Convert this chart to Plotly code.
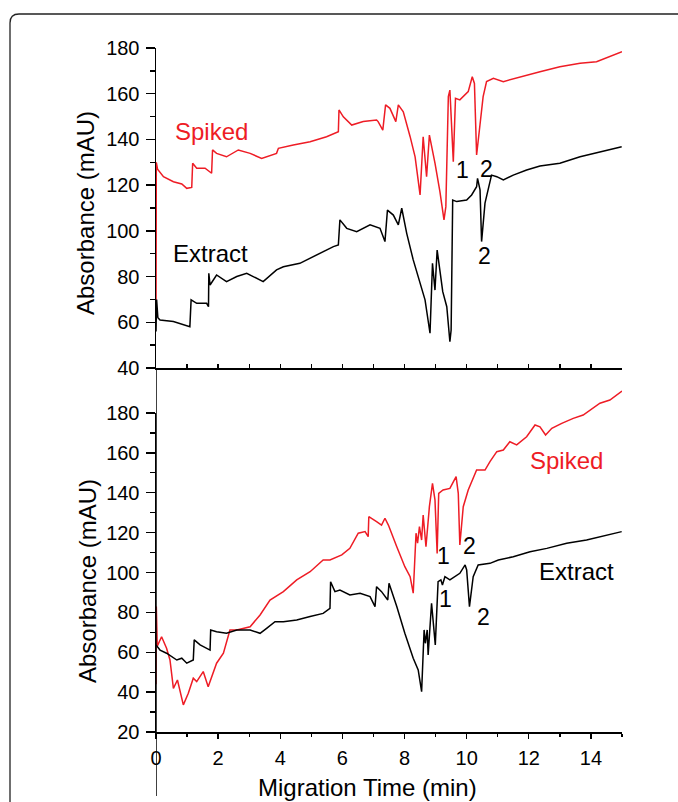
import plotly.graph_objects as go

# ---------------- data ----------------
# Top panel
top_spiked_x = [0, 0.01, 0.05, 0.24, 0.56, 0.83, 0.99, 1.15, 1.18, 1.31, 1.58, 1.79, 1.82, 1.95, 2.27,
                2.65, 3.03, 3.40, 3.88, 3.94, 4.42, 4.96, 5.49, 5.87, 5.89, 6.03, 6.30, 6.67, 7.10, 7.15,
                7.30, 7.39, 7.53, 7.72, 7.80, 7.96, 8.18, 8.34, 8.50, 8.60, 8.71, 8.80, 8.98, 9.14, 9.27,
                9.33, 9.41, 9.46, 9.57, 9.64, 9.78, 10.05, 10.18, 10.25, 10.32, 10.43, 10.53, 10.64,
                10.86, 11.18, 11.72, 12.36, 13.0, 13.65, 14.18, 14.61, 15.0]
top_spiked_y = [61, 130, 127, 123.7, 121.5, 120.5, 118.6, 119, 129.6, 127.4, 127.4, 125.2, 135.4, 133.9,
                132.4, 135.4, 133.9, 131.7, 133.9, 136.1, 137.6, 139.0, 141.2, 143.4, 152.9, 149.9,
                146.3, 147.8, 148.5, 147.8, 144.1, 155.1, 153.6, 147.8, 155.1, 152.1, 141.2, 132.4,
                115.7, 141.2, 123.7, 141.9, 129.6, 117.1, 104.8, 110.6, 158.7, 161.6, 130.3, 158.0,
                157.3, 160.9, 167.4, 164.5, 133.2, 145.6, 158.7, 165.3, 166.7, 165.3, 167.4, 169.6,
                171.8, 173.3, 174.0, 176.2, 178.4]

top_extract_x = [0, 0.02, 0.06, 0.13, 0.56, 0.88, 1.09, 1.13, 1.31, 1.63, 1.69, 1.70, 1.74, 1.95, 2.27,
                 2.60, 2.92, 3.13, 3.45, 3.88, 4.10, 4.63, 5.17, 5.71, 5.87, 5.92, 6.14, 6.46, 6.89,
                 7.21, 7.37, 7.45, 7.64, 7.80, 7.91, 8.07, 8.28, 8.55, 8.66, 8.82, 8.90, 8.98, 9.05,
                 9.23, 9.36, 9.46, 9.50, 9.55, 9.68, 10.0, 10.16, 10.32, 10.35, 10.43, 10.48, 10.59,
                 10.70, 10.80, 10.97, 11.18, 11.50, 11.93, 12.36, 13.0, 13.65, 14.29, 14.99]
top_extract_y = [56, 70, 62, 61.0, 60.3, 58.8, 58.1, 69.8, 68.3, 68.3, 66.8, 81.4, 76.3, 80.7, 77.8,
                 80.0, 81.4, 80.0, 77.8, 82.9, 84.3, 85.8, 89.4, 93.1, 93.8, 104.8, 101.1, 99.6, 102.6,
                 101.1, 95.3, 109.1, 106.9, 102.6, 109.9, 98.9, 87.3, 75.6, 69.8, 55.2, 85.8, 74.1,
                 91.6, 73.4, 66.8, 51.5, 56.6, 113.5, 112.8, 113.5, 115.7, 119.3, 123.0, 117.9, 95.3,
                 112.1, 117.9, 124.4, 123.7, 122.3, 124.4, 126.6, 128.4, 129.6, 132.4, 134.6, 136.8]

# Bottom panel
bot_spiked_x = [0, 0.01, 0.04, 0.08, 0.18, 0.34, 0.45, 0.56, 0.69, 0.88, 1.04, 1.20, 1.31, 1.52, 1.68,
                1.95, 2.17, 2.38, 2.60, 3.03, 3.35, 3.67, 4.10, 4.53, 4.96, 5.38, 5.60, 5.98, 6.24,
                6.51, 6.73, 6.83, 6.85, 7.10, 7.26, 7.37, 7.48, 7.75, 8.01, 8.18, 8.28, 8.37, 8.42,
                8.48, 8.55, 8.60, 8.69, 8.80, 8.90, 8.98, 9.05, 9.10, 9.24, 9.46, 9.66, 9.73, 9.78,
                9.89, 10.05, 10.32, 10.59, 10.75, 10.97, 11.18, 11.39, 11.61, 11.93, 12.20, 12.36,
                12.54, 12.74, 13.06, 13.43, 13.75, 13.97, 14.29, 14.61, 15.0]
bot_spiked_y = [44, 83, 63, 64.5, 67.8, 62.0, 56.1, 41.9, 46.1, 33.6, 39.4, 47.0, 45.3, 50.3, 42.7,
                54.5, 59.5, 71.2, 71.2, 72.8, 78.7, 86.2, 90.4, 96.3, 100.4, 106.3, 106.3, 108.8,
                112.1, 119.7, 120.5, 118.0, 128.0, 125.5, 123.8, 127.2, 123.8, 112.9, 102.9, 97.9,
                89.6, 119.7, 114.7, 123.0, 116.3, 128.8, 112.9, 133.0, 144.7, 136.4, 109.6, 139.7,
                141.4, 142.2, 148.1, 139.7, 113.8, 133.0, 141.4, 151.4, 151.4, 155.6, 160.6, 161.4,
                165.6, 164.0, 168.1, 174.0, 173.1, 169.0, 172.3, 174.8, 177.3, 179.0, 181.5, 184.9,
                186.5, 191.0]

bot_extract_x = [0, 0.13, 0.34, 0.67, 0.83, 0.99, 1.20, 1.23, 1.42, 1.74, 1.76, 1.95, 2.27, 2.60, 3.03,
                 3.35, 3.56, 3.83, 4.10, 4.53, 4.96, 5.38, 5.60, 5.62, 5.76, 5.92, 6.24, 6.57, 6.89,
                 7.05, 7.10, 7.26, 7.46, 7.50, 7.75, 8.01, 8.28, 8.44, 8.55, 8.63, 8.67, 8.73, 8.76,
                 8.87, 8.99, 9.08, 9.17, 9.22, 9.30, 9.46, 9.78, 9.95, 10.0, 10.09, 10.21, 10.37,
                 10.75, 11.02, 11.50, 12.04, 12.58, 13.22, 13.86, 14.51, 14.99]
bot_extract_y = [63.7, 61.1, 59.5, 56.1, 57.0, 54.5, 56.1, 66.2, 63.7, 61.1, 71.2, 70.3, 69.5, 71.2,
                 71.2, 69.5, 72.0, 75.3, 75.3, 76.2, 77.9, 79.5, 82.0, 95.4, 90.4, 91.2, 88.7, 89.6,
                 87.9, 82.9, 92.9, 90.4, 86.2, 94.6, 82.9, 69.5, 57.0, 51.1, 40.2, 71.2, 64.5, 71.2,
                 58.6, 84.6, 63.7, 95.4, 96.3, 93.7, 97.9, 96.3, 99.6, 103.8, 101.3, 82.9, 97.9,
                 103.8, 104.6, 106.3, 107.9, 110.4, 112.1, 114.7, 116.3, 118.8, 120.5]

# text labels: (text, x, y, colour)
top_labels = [("Spiked", 1.80, 143.3, "#ee1c25"), ("Extract", 1.77, 89.9, "black"),
              ("1", 9.85, 126.6, "black"), ("2", 10.65, 127.1, "black"), ("2", 10.56, 89.0, "black")]
bot_labels = [("Spiked", 13.2, 156.4, "#ee1c25"), ("Extract", 13.55, 100.3, "black"),
              ("1", 9.27, 108.3, "black"), ("2", 10.1, 113.3, "black"),
              ("1", 9.33, 86.7, "black"), ("2", 10.53, 77.7, "black")]

x_title = "Migration Time (min)"
y_title = "Absorbance (mAU)"

# ---------------- layout geometry ----------------
W, H = 678, 802
RED = "#ee1c25"
FONT = "Liberation Sans, Arial, sans-serif"

def px_x(p):
    return p / W

def px_y(p):
    return 1 - p / H

xdom = [px_x(156), px_x(622)]
top_dom = [px_y(368), px_y(48)]
bot_dom = [px_y(732), px_y(413)]
# extended data axis for bottom panel (red trace rises above 180)
bot_ppu = (732 - 413) / 160.0
bot_ext_top = 192
bot_dom_ext = [bot_dom[0], px_y(413 - (bot_ext_top - 180) * bot_ppu)]

fig = go.Figure()
fig.add_trace(go.Scatter(x=top_spiked_x, y=top_spiked_y, mode="lines", xaxis="x", yaxis="y",
                         line=dict(color=RED, width=1.5), showlegend=False, hoverinfo="skip"))
fig.add_trace(go.Scatter(x=top_extract_x, y=top_extract_y, mode="lines", xaxis="x", yaxis="y",
                         line=dict(color="black", width=1.5), showlegend=False, hoverinfo="skip"))
fig.add_trace(go.Scatter(x=bot_spiked_x, y=bot_spiked_y, mode="lines", xaxis="x2", yaxis="y5",
                         line=dict(color=RED, width=1.5), showlegend=False, hoverinfo="skip"))
fig.add_trace(go.Scatter(x=bot_extract_x, y=bot_extract_y, mode="lines", xaxis="x2", yaxis="y5",
                         line=dict(color="black", width=1.5), showlegend=False, hoverinfo="skip"))

common = dict(showgrid=False, zeroline=False, linecolor="black", linewidth=1.5,
              tickcolor="black", tickwidth=1.3)
tickfont = dict(family=FONT, size=20, color="black")

fig.update_layout(
    width=W, height=H, template="none",
    margin=dict(l=0, r=0, t=0, b=0),
    paper_bgcolor="white", plot_bgcolor="rgba(0,0,0,0)",
    showlegend=False,
    # ---- top panel ----
    xaxis=dict(domain=xdom, range=[0, 15], anchor="y", showline=True, ticks="inside", dtick=1,
               tick0=0, ticklen=4, showticklabels=False, automargin=False, **common),
    xaxis3=dict(overlaying="x", side="top", anchor="y", range=[0, 15], showline=True,
                ticks="inside", dtick=1, tick0=0, ticklen=4, showticklabels=False,
                automargin=False, **common),
    yaxis=dict(domain=top_dom, range=[40, 180], anchor="x", showline=True, ticks="outside",
               dtick=20, tick0=0, ticklen=9, tickfont=tickfont, ticklabelstandoff=2,
               minor=dict(dtick=10, tick0=0, ticks="outside", ticklen=5, tickcolor="black",
                          tickwidth=1.3),
               automargin=False, **common),
    yaxis3=dict(overlaying="y", side="right", anchor="x", range=[40, 180], showline=True,
                ticks="inside", dtick=10, tick0=0, ticklen=4, showticklabels=False,
                automargin=False, **common),
    # ---- bottom panel ----
    xaxis2=dict(domain=xdom, range=[0, 15], anchor="y2", showline=True, ticks="outside", dtick=2,
                tick0=0, ticklen=5, tickfont=tickfont, ticklabelstandoff=2,
                minor=dict(dtick=1, tick0=0, ticks="outside", ticklen=3, tickcolor="black",
                           tickwidth=1.3),
                automargin=False, **common),
    xaxis5=dict(overlaying="x2", side="bottom", anchor="y2", range=[0, 15], showline=False,
                ticks="inside", dtick=2, tick0=0, ticklen=5, showticklabels=False,
                minor=dict(dtick=1, tick0=0, ticks="inside", ticklen=3, tickcolor="black",
                           tickwidth=1.3),
                automargin=False, **common),
    xaxis4=dict(overlaying="x2", side="top", anchor="y2", range=[0, 15], showline=True,
                ticks="inside", dtick=1, tick0=0, ticklen=4, showticklabels=False,
                automargin=False, **common),
    yaxis2=dict(domain=bot_dom, range=[20, 180], anchor="x2", showline=True, ticks="outside",
                dtick=20, tick0=0, ticklen=9, tickfont=tickfont, ticklabelstandoff=2,
                minor=dict(dtick=10, tick0=0, ticks="outside", ticklen=5, tickcolor="black",
                           tickwidth=1.3),
                automargin=False, **common),
    yaxis4=dict(overlaying="y2", side="right", anchor="x2", range=[20, 180], showline=True,
                ticks="inside", dtick=10, tick0=0, ticklen=4, showticklabels=False,
                automargin=False, **common),
    yaxis5=dict(domain=bot_dom_ext, range=[20, bot_ext_top], anchor="x2", visible=False,
                automargin=False, showgrid=False, zeroline=False),
)

annotations = []
for txt, x, y, col in top_labels:
    annotations.append(dict(text=txt, x=x, y=y, xref="x", yref="y", showarrow=False,
                            font=dict(family=FONT, size=24 if len(txt) > 1 else 23, color=col),
                            xanchor="center", yanchor="middle"))
for txt, x, y, col in bot_labels:
    annotations.append(dict(text=txt, x=x, y=y, xref="x2", yref="y2", showarrow=False,
                            font=dict(family=FONT, size=24 if len(txt) > 1 else 23, color=col),
                            xanchor="center", yanchor="middle"))
# axis titles
annotations.append(dict(text=y_title, x=px_x(86), y=px_y(213), xref="paper", yref="paper",
                        showarrow=False, textangle=-90, xanchor="center", yanchor="middle",
                        font=dict(family=FONT, size=24, color="black")))
annotations.append(dict(text=y_title, x=px_x(87), y=px_y(581), xref="paper", yref="paper",
                        showarrow=False, textangle=-90, xanchor="center", yanchor="middle",
                        font=dict(family=FONT, size=24, color="black")))
annotations.append(dict(text=x_title, x=px_x(367), y=px_y(787), xref="paper", yref="paper",
                        showarrow=False, xanchor="center", yanchor="middle",
                        font=dict(family=FONT, size=24, color="black")))
fig.update_layout(annotations=annotations)

# continuous vertical line at t = 0 and outer rounded frame
xl, yt = px_x(10), px_y(14)
rx, ry = 9 / W, 9 / H
fig.update_layout(shapes=[
    dict(type="line", xref="x2", yref="paper", x0=0, x1=0, y0=px_y(796), y1=px_y(368),
         line=dict(color="black", width=1.5), layer="above"),
    dict(type="path", xref="paper", yref="paper",
         path=f"M {xl},-0.01 L {xl},{yt - ry} Q {xl},{yt} {xl + rx},{yt} L 1.01,{yt}",
         line=dict(color="#222222", width=1.3)),
])

fig.write_html(
    "out.html",
    config={"displayModeBar": False, "staticPlot": True},
    post_script="document.body.style.margin='0px';document.body.style.overflow='hidden';",
)
